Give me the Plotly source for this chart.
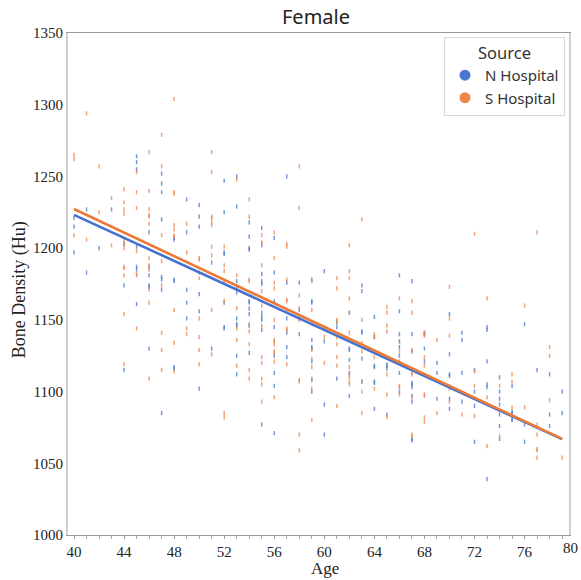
import plotly.graph_objects as go

AGES = list(range(40, 80))

N_HOSPITAL = [
    [1221, 1215, 1197],
    [1227, 1183],
    [1200],
    [1227],
    [1203, 1174, 1115],
    [1264, 1260, 1255, 1201, 1187, 1185, 1161],
    [1211, 1187, 1181, 1174, 1173, 1130],
    [1252, 1245, 1239, 1220, 1180, 1178, 1171, 1085],
    [1207, 1206, 1178, 1177, 1117, 1116],
    [1234, 1211, 1171, 1162, 1151],
    [1230, 1222, 1215, 1168, 1156, 1102],
    [1190, 1130],
    [1247, 1225, 1197, 1196, 1162, 1145, 1144],
    [1250, 1229, 1177, 1173, 1169, 1151, 1147, 1146, 1125, 1112],
    [1218, 1208, 1200, 1199, 1163, 1162, 1158, 1154, 1146, 1127],
    [1214, 1202, 1182, 1177, 1175, 1155, 1152, 1150, 1143, 1077],
    [1207, 1183, 1163, 1145, 1125, 1113, 1104, 1071],
    [1250, 1176, 1151, 1141, 1131, 1124],
    [1176, 1157, 1151, 1140],
    [1178, 1163, 1162, 1136, 1131, 1130, 1121, 1108, 1100],
    [1184, 1144, 1135, 1091, 1070],
    [1148, 1145, 1109],
    [1155, 1130, 1129, 1122, 1113, 1097],
    [1174, 1170, 1142, 1141, 1123, 1107],
    [1152, 1138, 1118, 1117, 1107, 1106, 1088],
    [1119, 1118, 1116, 1084],
    [1181, 1156, 1140, 1135, 1131, 1125, 1113, 1100],
    [1177, 1140, 1128, 1106, 1105, 1103, 1097, 1093, 1067, 1066],
    [1141, 1140, 1130, 1121],
    [1120, 1113, 1095],
    [1154, 1126, 1112, 1111, 1095, 1088],
    [1141, 1136, 1113, 1093],
    [1115, 1100, 1090, 1065],
    [1145, 1143, 1121, 1105, 1103, 1039],
    [1110, 1100, 1095, 1091, 1084, 1076, 1067],
    [1104, 1086, 1085, 1081, 1080],
    [1147, 1077, 1065],
    [1115],
    [1112, 1084, 1076],
    [1100, 1085],
]

S_HOSPITAL = [
    [1265, 1262, 1209],
    [1294, 1206],
    [1257, 1225],
    [1235, 1202],
    [1241, 1232, 1227, 1224, 1205, 1203, 1200, 1187, 1186, 1181, 1154, 1119],
    [1253, 1239, 1228, 1198, 1182, 1181, 1144],
    [1267, 1240, 1227, 1223, 1222, 1217, 1193, 1188, 1185, 1171, 1162, 1109],
    [1279, 1257, 1209, 1191, 1174, 1141, 1129, 1115],
    [1304, 1239, 1238, 1216, 1213, 1209, 1208, 1157, 1134, 1114],
    [1217, 1197, 1144, 1140],
    [1193, 1192, 1183, 1179, 1151, 1138, 1129, 1119],
    [1267, 1253, 1222, 1221, 1218, 1216, 1201, 1195, 1157, 1126],
    [1201, 1188, 1184, 1177, 1163, 1085, 1082],
    [1248, 1181, 1158, 1144, 1136, 1118],
    [1234, 1222, 1178, 1177, 1147, 1142, 1133, 1115, 1109],
    [1209, 1204, 1203, 1188, 1170, 1160, 1146, 1124, 1120, 1109, 1105, 1093],
    [1211, 1193, 1176, 1172, 1150, 1136, 1135, 1133, 1128, 1127, 1121, 1096],
    [1203, 1201, 1178, 1164, 1163, 1157, 1144, 1143, 1119],
    [1257, 1228, 1167, 1158, 1150, 1108, 1107, 1070, 1059],
    [1177, 1157, 1129, 1123, 1117, 1109, 1102, 1080],
    [1138, 1120],
    [1179, 1172, 1150, 1149, 1138, 1133, 1124, 1118, 1090],
    [1202, 1184, 1179, 1165, 1155, 1141, 1117, 1112, 1110, 1107, 1105],
    [1220, 1150, 1134, 1128, 1107, 1100, 1085],
    [1140, 1138, 1124, 1102],
    [1159, 1155, 1146, 1142, 1112, 1098, 1082],
    [1165, 1135, 1128, 1121, 1104, 1103, 1098],
    [1163, 1155, 1129, 1113, 1112, 1096, 1070, 1069],
    [1141, 1140, 1139, 1124, 1118, 1098, 1097, 1082, 1079],
    [1136, 1085],
    [1173, 1151, 1139, 1102, 1093],
    [1084],
    [1210, 1114, 1104, 1083],
    [1165, 1096, 1062],
    [1104, 1069],
    [1112, 1107, 1089],
    [1160, 1089],
    [1211, 1077, 1070, 1060, 1059, 1054],
    [1131, 1125, 1094],
    [1054],
]

FIT_AGES = [40, 79]
N_FIT = [1223.2, 1066.8]
S_FIT = [1227.3, 1067.0]

X_TICKS = list(range(40, 81, 4))
Y_TICKS = list(range(1000, 1351, 50))

BLUE = "#4878d0"
ORANGE = "#ee854a"
BLUE_LINE = "#4472cf"
ORANGE_LINE = "#ec7a36"


def flatten(groups):
    xs, ys = [], []
    for age, vals in zip(AGES, groups):
        for v in vals:
            xs.append(age)
            ys.append(v)
    return xs, ys


nx, ny = flatten(N_HOSPITAL)
sx, sy = flatten(S_HOSPITAL)

fig = go.Figure()
for xs, ys, col in [(nx, ny, BLUE), (sx, sy, ORANGE)]:
    fig.add_trace(go.Scatter(
        x=xs, y=ys, mode="markers", showlegend=False, hoverinfo="skip",
        marker=dict(symbol="line-ns", size=3, color=col,
                    line=dict(color=col, width=1.5), opacity=0.75),
    ))

fig.add_trace(go.Scatter(x=FIT_AGES, y=N_FIT, mode="lines", showlegend=False,
                         line=dict(color=BLUE_LINE, width=2.6)))
fig.add_trace(go.Scatter(x=FIT_AGES, y=S_FIT, mode="lines", showlegend=False,
                         line=dict(color=ORANGE_LINE, width=2.6)))

for name, col in [("N Hospital", BLUE), ("S Hospital", ORANGE)]:
    fig.add_trace(go.Scatter(x=[None], y=[None], mode="markers", name=name,
                             marker=dict(symbol="circle", size=11, color=col)))

fig.update_layout(
    width=581, height=580,
    margin=dict(l=68, r=10, t=33, b=45),
    paper_bgcolor="white", plot_bgcolor="white",
    title=dict(text="Female", x=316 / 581, xanchor="center", y=1 - 17 / 580,
               yanchor="middle", font=dict(family="Noto Sans", size=20, color="#222")),
    legend=dict(
        title=dict(text="Source", side="top center",
                   font=dict(family="Noto Sans", size=16.5, color="#333")),
        font=dict(family="Noto Sans", size=15, color="#333"),
        x=0.992, y=0.993, xanchor="right", yanchor="top",
        bgcolor="white", bordercolor="#d8d8d8", borderwidth=1,
        tracegroupgap=0, itemwidth=30,
    ),
    xaxis=dict(
        range=[39.52, 79.55], tickvals=X_TICKS, ticktext=[str(t) for t in X_TICKS],
        ticks="outside", ticklen=3, tickcolor="#999", showgrid=False, zeroline=False,
        showline=True, linecolor="#999", linewidth=1.2, mirror=True,
        tickfont=dict(family="Liberation Serif", size=15, color="#222"),
        minor=dict(dtick=1, tick0=40, ticks="outside", ticklen=3, tickcolor="#aaa", showgrid=False),
    ),
    yaxis=dict(
        range=[1000, 1350], tickvals=Y_TICKS, ticks="", showgrid=False, zeroline=False,
        showline=True, linecolor="#d0d0d0", linewidth=2, mirror=True,
        tickfont=dict(family="Liberation Serif", size=15, color="#222"),
    ),
    annotations=[
        dict(text="Age", xref="paper", yref="paper", x=(326 - 68) / 503, y=(535 - 568) / 502,
             xanchor="center", yanchor="middle", showarrow=False,
             font=dict(family="Liberation Serif", size=17, color="#222")),
        dict(text="Bone Density (Hu)", xref="paper", yref="paper", x=(19 - 68) / 503,
             y=(535 - 290) / 502, xanchor="center", yanchor="middle", textangle=-90,
             showarrow=False, font=dict(family="Liberation Serif", size=18, color="#222")),
        dict(text="80", xref="paper", yref="paper", x=(573 - 68) / 503, y=(535 - 548) / 502,
             xanchor="center", yanchor="middle", showarrow=False,
             font=dict(family="Liberation Serif", size=15, color="#222")),
    ],
)

fig.write_html("out.html")
